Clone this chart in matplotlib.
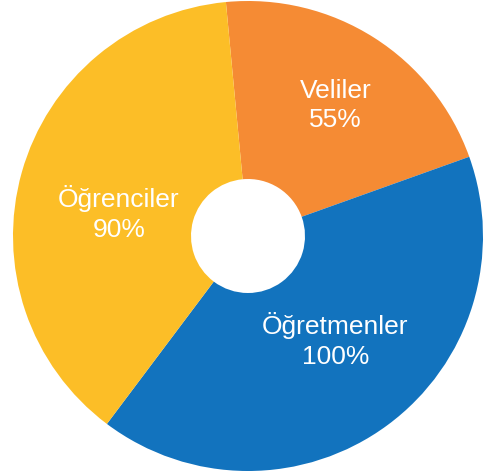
import matplotlib
matplotlib.use("Agg")
import matplotlib.pyplot as plt

# slice sizes (degrees of arc), labels as printed
groups = ["Veliler", "Öğretmenler", "Öğrenciler"]
pct_labels = ["55%", "100%", "90%"]
arc_deg = [75.7, 146.6, 137.7]
colors = ["#F58B34", "#1273BE", "#FCBE27"]

# label positions in units of the outer radius
label_xy = [(0.372, 0.555), (0.372, -0.445), (-0.549, 0.096)]

plt.rcParams['font.family'] = ['Liberation Sans', 'DejaVu Sans']

fig = plt.figure(figsize=(4.89, 4.75), dpi=100)
ax = fig.add_axes([13 / 489, 4 / 475, 470 / 489, 470 / 475])

ax.pie(arc_deg, colors=colors, startangle=95.4, counterclock=False,
       radius=1.0, wedgeprops=dict(width=1 - 57 / 235, linewidth=0))

for name, pct, (x, y) in zip(groups, pct_labels, label_xy):
    ax.text(x, y, name + "\n" + pct, color="white", fontsize=19,
            ha="center", va="center", linespacing=1.3)

ax.set_xlim(-1, 1)
ax.set_ylim(-1, 1)
ax.set_aspect("equal")
ax.axis("off")

plt.savefig("out.png", dpi=100)
plt.close("all")
